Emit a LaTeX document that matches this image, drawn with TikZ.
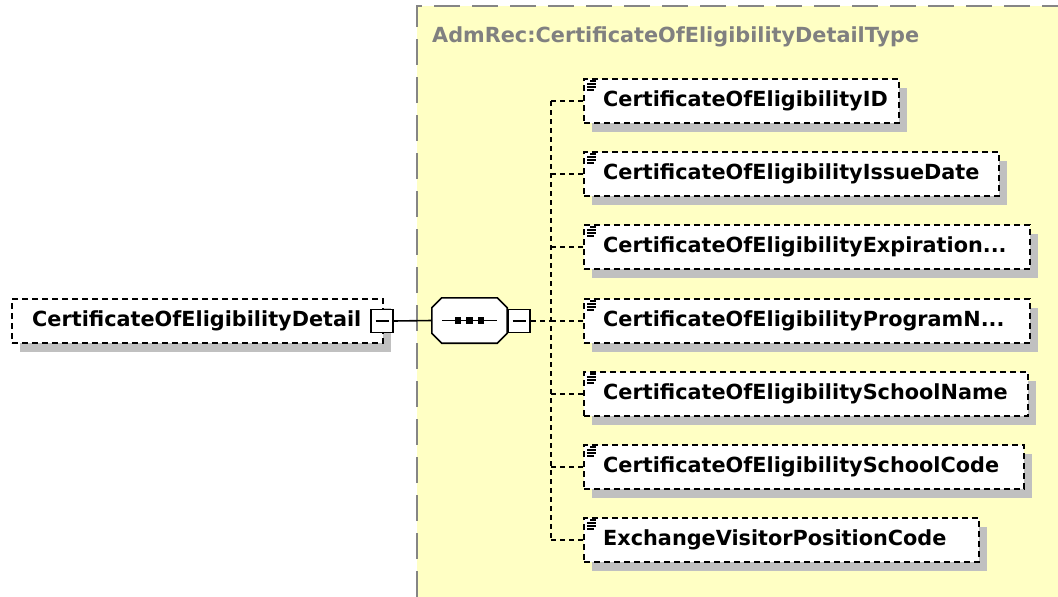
\documentclass[tikz,border=0pt]{standalone}
\usepackage{fontspec}
\newfontfamily\djfont{DejaVu Sans}
\usetikzlibrary{shadows,calc}
\definecolor{ybg}{HTML}{FFFFC4}
\definecolor{shad}{HTML}{C0C0C0}
\definecolor{bordergray}{HTML}{858585}
\definecolor{titlegray}{HTML}{808080}
\begin{document}
\begin{tikzpicture}[x=1pt,y=-1pt,
  lbl/.style={font=\djfont\bfseries\fontsize{20.8}{25}\selectfont, anchor=west, inner sep=0pt},
  elbox/.style={draw, fill=white, line width=2pt, dash pattern=on 6pt off 4pt,
    minimum height=44pt, anchor=west, inner sep=0pt,
    general shadow={fill=shad, shadow xshift=8pt, shadow yshift=-9pt}},
  minusbox/.style={draw, fill=white, line width=1.6pt, minimum width=22pt, minimum height=23pt, inner sep=0pt},
  seqarea/.style={minimum width=75pt, minimum height=45pt, inner sep=0pt},
  conn/.style={line width=2pt, dash pattern=on 5pt off 4pt},
  solidconn/.style={line width=1.6pt},
  iconline/.style={line width=1.3pt, line cap=butt}
]
\useasboundingbox (0,0) rectangle (1058,597);
\clip (0,0) rectangle (1058,597);
\fill[white] (0,0) rectangle (1058,597);
% complex type area
\fill[ybg] (417,6) rectangle (1058,597);
\draw[bordergray, line width=2pt, dash pattern=on 26pt off 12pt] (417,597) -- (417,6) -- (1058,6);
\node[lbl, text=titlegray] (title) at (432,37) {AdmRec:CertificateOfEligibilityDetailType};

% root element
\node[elbox, minimum width=371pt] (root) at (11,321) {};
\node[lbl] (roottxt) at ($(root.west)+(21,0)$) {CertificateOfEligibilityDetail};
\node[minusbox] (rm) at (382,321) {\rule{13pt}{1.4pt}};

% sequence compositor (octagon)
\node[seqarea] (seq) at (469.5,320.5) {};
\fill[shad, shift={(8,9)}]
  ($(seq.north west)+(10,0)$) -- ($(seq.north east)+(-10,0)$) -- ($(seq.north east)+(0,10)$) --
  ($(seq.south east)+(0,-10)$) -- ($(seq.south east)+(-10,0)$) -- ($(seq.south west)+(10,0)$) --
  ($(seq.south west)+(0,-10)$) -- ($(seq.north west)+(0,10)$) -- cycle;
\draw[solidconn, fill=white, line join=miter]
  ($(seq.north west)+(10,0)$) -- ($(seq.north east)+(-10,0)$) -- ($(seq.north east)+(0,10)$) --
  ($(seq.south east)+(0,-10)$) -- ($(seq.south east)+(-10,0)$) -- ($(seq.south west)+(10,0)$) --
  ($(seq.south west)+(0,-10)$) -- ($(seq.north west)+(0,10)$) -- cycle;
\draw[solidconn] ($(seq.west)+(10,0)$) -- ($(seq.east)+(-10,0)$);
\foreach \dx in {458,469.5,481} {
  \fill (\dx-3.3,317.2) rectangle (\dx+3.3,323.8);
}
\node[minusbox] (sm) at (519,321) {\rule{13pt}{1.4pt}};
\draw[solidconn] (rm.east) -- (seq.west);

% children
\node[elbox, minimum width=315pt] (c1) at (583,101) {};
\node[elbox, minimum width=415pt] (c2) at (583,174) {};
\node[elbox, minimum width=446pt] (c3) at (583,247) {};
\node[elbox, minimum width=446pt] (c4) at (583,321) {};
\node[elbox, minimum width=444pt] (c5) at (583,394) {};
\node[elbox, minimum width=440pt] (c6) at (583,467) {};
\node[elbox, minimum width=395pt] (c7) at (583,540) {};
\node[lbl] (t1) at ($(c1.west)+(20,0)$) {CertificateOfEligibilityID};
\node[lbl] (t2) at ($(c2.west)+(20,0)$) {CertificateOfEligibilityIssueDate};
\node[lbl] (t3) at ($(c3.west)+(20,0)$) {CertificateOfEligibilityExpiration...};
\node[lbl] (t4) at ($(c4.west)+(20,0)$) {CertificateOfEligibilityProgramN...};
\node[lbl] (t5) at ($(c5.west)+(20,0)$) {CertificateOfEligibilitySchoolName};
\node[lbl] (t6) at ($(c6.west)+(20,0)$) {CertificateOfEligibilitySchoolCode};
\node[lbl] (t7) at ($(c7.west)+(20,0)$) {ExchangeVisitorPositionCode};

\foreach \n in {c1,c2,c3,c4,c5,c6,c7} {
  \draw[iconline] ($(\n.north west)+(7,3)$) -- +(6,0);
  \draw[iconline] ($(\n.north west)+(4,6)$) -- +(9,0);
  \draw[iconline] ($(\n.north west)+(4,9)$) -- +(9,0);
  \draw[iconline] ($(\n.north west)+(4,12)$) -- +(7,0);
}

% connectors
\coordinate (bus) at (551,321);
\draw[conn] (sm.east) -- (bus);
\draw[conn] (bus |- c1.west) -- (bus |- c7.west);
\foreach \n in {c1,c2,c3,c4,c5,c6,c7} {
  \draw[conn] (bus |- \n.west) -- (\n.west);
}
\end{tikzpicture}
\end{document}
